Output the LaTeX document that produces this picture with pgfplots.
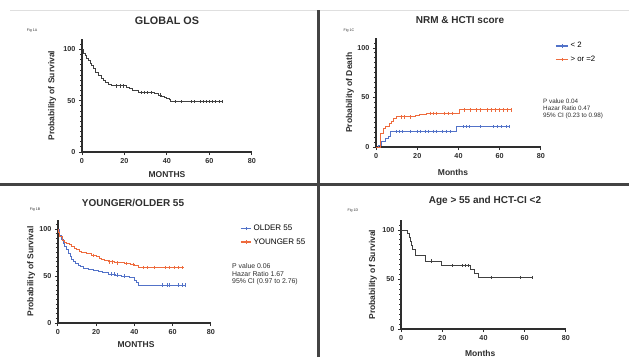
\documentclass[border=0pt]{standalone}
\usepackage{pgfplots}
\pgfplotsset{compat=1.18}
\usepackage{fontspec}
\setmainfont{Liberation Sans}
\definecolor{axcol}{HTML}{2E2E2E}
\definecolor{kmblue}{HTML}{5272C8}
\definecolor{kmorange}{HTML}{EE6B3D}
\definecolor{kmgray}{HTML}{404040}
\pgfplotsset{
  km/.style={
    scale only axis, axis lines=left,
    axis line style={line width=1.4pt, draw=axcol, -},
    xmin=0, xmax=80, ymin=0, ymax=110,
    xtick={0,20,40,60,80}, ytick={0,50,100},
    minor ytick={5,10,...,105},
    tick align=outside, major tick length=3.2pt, minor tick length=2pt,
    every tick/.style={line width=1pt, draw=axcol},
    ticklabel style={font=\bfseries\fontsize{7.2}{8}\selectfont, text=axcol},
    /pgf/number format/assume math mode=true,
    xlabel style={font=\bfseries\fontsize{8.5}{10}\selectfont, text=axcol, anchor=center},
    ylabel style={font=\bfseries\fontsize{8.5}{10}\selectfont, text=axcol, anchor=center},
    clip=false,
  },
  curve/.style={const plot, line width=1pt, no marks, forget plot},
  cens/.style={only marks, mark=|, mark size=1.7pt, mark options={line width=0.8pt}, forget plot},
  kmleg/.style={legend cell align=left,
    legend style={draw=none, fill=none, anchor=north west, inner sep=0pt, row sep=2pt}},
  legC/.style={legend image code/.code={\draw[#1, line width=1.4pt] (0pt,0pt) -- (12pt,0pt); \draw[#1, line width=0.8pt] (6pt,-1.8pt) -- (6pt,1.8pt);}},
  legB/.style={legend image code/.code={\draw[#1, line width=1.4pt] (0pt,0pt) -- (10pt,0pt); \draw[#1, line width=0.8pt] (5pt,-1.6pt) -- (5pt,1.6pt);}},
}
\begin{document}
\begin{tikzpicture}
\path[fill=white, use as bounding box] (0pt,0pt) rectangle (629pt,357pt);
\draw[gray!25, line width=0.8pt] (10pt,347pt) -- (629pt,347pt);
\draw[axcol!90, line width=3pt] (318.5pt,0pt) -- (318.5pt,347pt);
\draw[axcol!90, line width=3pt] (0pt,172.5pt) -- (629pt,172.5pt);

% ---------- Fig 1A ----------
\node[font=\bfseries\fontsize{10.8}{12}\selectfont, text=axcol] at (167pt,336pt) {GLOBAL OS};
\node[font=\fontsize{3.6}{4}\selectfont, text=axcol] at (32pt,326pt) {Fig 1A};
\begin{axis}[km, at={(82pt,205pt)}, anchor=south west, width=170pt, height=112.75pt,
  xlabel={MONTHS}, ylabel={Probability of Survival},
  xlabel style={at={(axis description cs:0.5,-0.204)}},
  ylabel style={at={(axis description cs:-0.176,0.5)}}]
\addplot[curve, kmgray] coordinates {(0,100) (0.9,96) (1.5,94) (2.2,91) (3,89) (3.8,86.5) (4.5,84) (5.3,81.5) (6.5,78) (7.7,75) (9,72) (10,70) (11,68) (12.4,66.3) (14,64.5) (21,62.8) (22.5,61.5) (24,60) (26.5,58) (34.3,56.6) (36,55.5) (37.5,54.6) (39,53.5) (40,52.4) (41,51) (41.7,49) (66,49)};
\addplot[cens, kmgray] coordinates {(16,64.5) (18,64.5) (19.5,64.5) (28,58) (29.5,58) (31,58) (32.5,58) (36.7,55.5) (44,49) (47,49) (51.5,49) (53,49) (55.5,49) (57,49) (58.5,49) (60,49) (61.5,49) (63,49) (64.5,49) (66,49)};
\end{axis}

% ---------- Fig 1C ----------
\node[font=\bfseries\fontsize{10}{12}\selectfont, text=axcol] at (460pt,337pt) {NRM \& HCTI score};
\node[font=\fontsize{3.6}{4}\selectfont, text=axcol] at (349pt,326pt) {Fig 1C};
\begin{axis}[km, kmleg, at={(376pt,210pt)}, anchor=south west, width=165pt, height=108.9pt,
  xlabel={Months}, ylabel={Probability of Death},
  xlabel style={at={(axis description cs:0.467,-0.23)}},
  ylabel style={at={(axis description cs:-0.158,0.5)}},
  legend style={at={(axis description cs:1.085,0.98)}, font=\fontsize{7.8}{9}\selectfont, row sep=2.5pt}]
\addlegendimage{legC, kmblue}
\addlegendentry{< 2}
\addlegendimage{legC, kmorange}
\addlegendentry{> or =2}
\addplot[curve, kmblue] coordinates {(0,0) (1.1,2) (2.7,5.4) (4.4,8.8) (6,11) (7,15.5) (38.8,20.5) (65,20.5)};
\addplot[curve, kmorange] coordinates {(0,0) (2,13.8) (3.5,18.9) (4.8,20.5) (6.5,24) (7.5,26) (8.4,29) (10,30.5) (19,31.5) (21,32.5) (24.5,34) (40.7,37.5) (66,37.5)};
\addplot[cens, kmblue] coordinates {(10,15.5) (11.5,15.5) (13,15.5) (16.5,15.5) (20,15.5) (21.5,15.5) (24,15.5) (25.5,15.5) (28,15.5) (29.5,15.5) (32,15.5) (34,15.5) (36,15.5) (42.5,20.5) (44,20.5) (45.5,20.5) (50.5,20.5) (57,20.5) (59,20.5) (61,20.5) (63,20.5) (64.5,20.5)};
\addplot[cens, kmorange] coordinates {(12.5,30.5) (14,30.5) (16.5,30.5) (26.5,34) (28,34) (29.5,34) (33,34) (35,34) (37,34) (43,37.5) (46,37.5) (48.5,37.5) (50.5,37.5) (54,37.5) (56,37.5) (58,37.5) (60,37.5) (62,37.5) (63.5,37.5) (65.5,37.5)};
\end{axis}
\node[anchor=north west, align=left, inner sep=0pt, font=\fontsize{6.3}{7.3}\selectfont, text=axcol] at (543pt,258.5pt) {P value 0.04\\Hazar Ratio 0.47\\95\% CI (0.23 to 0.98)};

% ---------- Fig 1B ----------
\node[font=\bfseries\fontsize{10}{12}\selectfont, text=axcol] at (133pt,154pt) {YOUNGER/OLDER 55};
\node[font=\fontsize{3.6}{4}\selectfont, text=axcol] at (35pt,147pt) {Fig 1B};
\begin{axis}[km, kmleg, at={(58pt,34pt)}, anchor=south west, width=153pt, height=103.4pt,
  xlabel={MONTHS}, ylabel={Probability of Survival},
  xlabel style={at={(axis description cs:0.51,-0.213)}},
  ylabel style={at={(axis description cs:-0.176,0.5)}},
  legend style={at={(axis description cs:1.19,0.97)}, font=\fontsize{8}{9}\selectfont, row sep=2.5pt}]
\addlegendimage{legB, kmblue}
\addlegendentry{OLDER 55}
\addlegendimage{legB, kmorange}
\addlegendentry{YOUNGER 55}
\addplot[curve, kmblue] coordinates {(0,100) (1,93.6) (2,89) (2.8,84.7) (3.6,81) (4.5,77.7) (5.4,74) (6.3,70.6) (7.2,67.5) (8,65) (9.3,63.5) (10.6,61.7) (12,60) (13.2,58) (15.9,57) (18.5,55.8) (21,54.6) (23.5,53.3) (26.3,52) (30,51) (33.3,50) (37.6,48.6) (40.2,45.7) (41.2,43) (42,40.4) (67,40.4)};
\addplot[curve, kmorange] coordinates {(0,100) (0.5,96) (1,92) (2.3,88) (3.5,86) (4.5,84.5) (6,83) (7,81) (8.5,79.5) (9.8,77.7) (11,76) (12.4,74.5) (15,73.5) (17.6,72) (20,70.6) (21.5,69) (22.8,67.7) (24.5,66.5) (26.3,65) (29.8,64) (35,63.2) (38,62.5) (40.2,61.7) (42,59) (66,59)};
\addplot[cens, kmblue] coordinates {(28,52) (29.5,52) (31,51) (34.5,50) (54.5,40.4) (57,40.4) (58.5,40.4) (63,40.4) (65,40.4) (66.5,40.4)};
\addplot[cens, kmorange] coordinates {(18.5,72) (27,65) (28.5,65) (31,64) (36,63.2) (39.5,62.5) (44.5,59) (46.5,59) (50.5,59) (56,59) (58.5,59) (61,59) (63,59) (65,59)};
\end{axis}
\node[anchor=north west, align=left, inner sep=0pt, font=\fontsize{6.9}{7.5}\selectfont, text=axcol] at (232pt,93.5pt) {P value 0.06\\Hazar Ratio 1.67\\95\% CI (0.97 to 2.76)};

% ---------- Fig 1D ----------
\node[font=\bfseries\fontsize{10}{12}\selectfont, text=axcol] at (485pt,156pt) {Age > 55 and HCT-CI <2};
\node[font=\fontsize{3.6}{4}\selectfont, text=axcol] at (353pt,146pt) {Fig 1D};
\begin{axis}[km, at={(401pt,28pt)}, anchor=south west, width=165pt, height=108.9pt,
  xlabel={Months}, ylabel={Probability of Survival},
  xlabel style={at={(axis description cs:0.48,-0.22)}},
  ylabel style={at={(axis description cs:-0.17,0.5)}}]
\addplot[curve, kmgray] coordinates {(0,100) (3,96) (4,92) (4.5,88) (5,84) (5.8,80) (6.8,74) (12,68.5) (19.5,64) (33.5,60) (35.5,56) (37.5,52) (64,52)};
\addplot[cens, kmgray] coordinates {(14.5,68.5) (25,64) (30,64) (31,64) (32.5,64) (43.6,52) (58,52) (63.5,52)};
\end{axis}
\end{tikzpicture}
\end{document}
